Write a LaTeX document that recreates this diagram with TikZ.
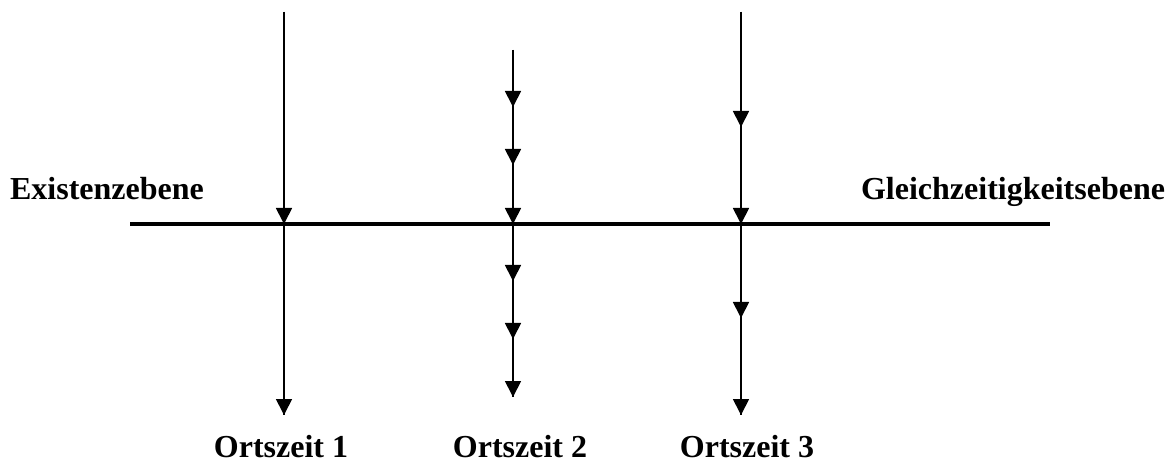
\documentclass[tikz,border=0pt]{standalone}
\usepackage{fontspec}
\setmainfont{Liberation Serif}
\usetikzlibrary{arrows.meta}
\begin{document}
\begin{tikzpicture}[x=1pt,y=-1pt,
  vbase/.style={line width=1.8pt},
  vline/.style={line width=1.8pt,-{Triangle[width=16pt,length=16pt]}},
  hline/.style={line width=4pt},
  lbl/.style={font=\fontsize{32}{36}\selectfont\bfseries,anchor=base,inner sep=0pt}]
\useasboundingbox (0,0) rectangle (1170,462);
% horizontal plane
\coordinate (hl) at (130,224);
\coordinate (hr) at (1050,224);
\draw[hline] (hl) -- (hr);
% line 1
\coordinate (a0) at (284,12);
\coordinate (a1) at (284,224);
\coordinate (a2) at (284,415);
\draw[vbase] (a0) -- (a2);
\draw[vline] (a0) -- (a1);
\draw[vline] (a1) -- (a2);
% line 2
\coordinate (b0) at (513,50);
\foreach \i/\y in {1/107,2/165,3/224,4/281,5/339,6/397}{\coordinate (b\i) at (513,\y);}
\draw[vbase] (b0) -- (b6);
\foreach \i [evaluate=\i as \j using int(\i+1)] in {0,...,5}{\draw[vline] (b\i) -- (b\j);}
% line 3
\coordinate (c0) at (741,12);
\coordinate (c1) at (741,127);
\coordinate (c2) at (741,224);
\coordinate (c3) at (741,318);
\coordinate (c4) at (741,415);
\draw[vbase] (c0) -- (c4);
\draw[vline] (c0) -- (c1);
\draw[vline] (c1) -- (c2);
\draw[vline] (c2) -- (c3);
\draw[vline] (c3) -- (c4);
% labels
\node[lbl] (ex) at (107,200) {Existenzebene};
\node[lbl] (gl) at (1013,200) {Gleichzeitigkeitsebene};
\node[lbl] (o1) at (281,457) {Ortszeit 1};
\node[lbl] (o2) at (520,457) {Ortszeit 2};
\node[lbl] (o3) at (747,457) {Ortszeit 3};
\end{tikzpicture}
\end{document}
